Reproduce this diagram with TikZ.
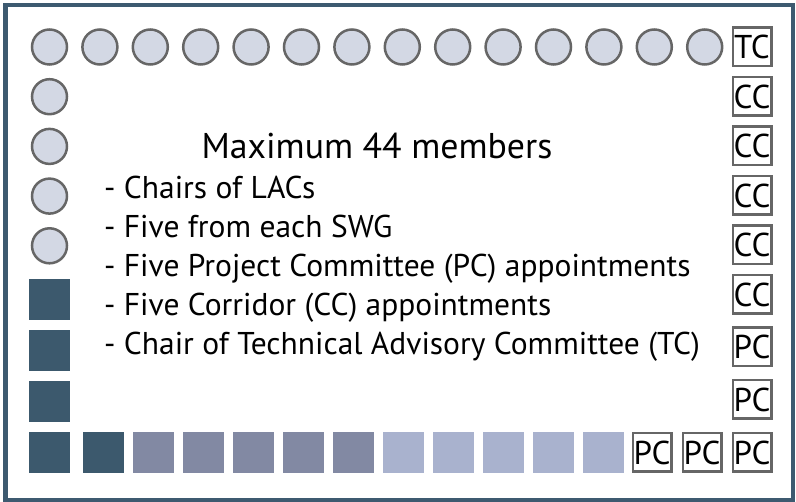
\documentclass[tikz,border=0pt]{standalone}
\usepackage{fontspec}
\setmainfont{PT Sans}
\usepackage{tikz}
\usetikzlibrary{ positioning, % For easy node-relative placements
               }
\definecolor{framecol}{HTML}{3D5A70}
\definecolor{lacfill}{HTML}{D3D8E4}
\definecolor{seatdark}{HTML}{3C596D}
\definecolor{seatmid}{HTML}{8289A3}
\definecolor{seatlight}{HTML}{A9B2CE}
\tikzstyle{frame} = [rectangle, draw=framecol, line width=4.5pt]
\tikzstyle{lac} = [circle, minimum width=35pt, inner sep=0pt, draw=black!60, line width=2.5pt, fill=lacfill]
\tikzstyle{seat} = [rectangle, minimum width=41pt, minimum height=41pt, inner sep=0pt]
\tikzstyle{appt} = [rectangle, minimum width=38.5pt, minimum height=38.5pt, inner sep=0pt, draw=black!60, line width=2.5pt, fill=white, font=\fontsize{33}{33}\selectfont]
\tikzstyle{item} = [anchor=base west, inner sep=0pt, font=\fontsize{31.5}{31.5}\selectfont]

\begin{document}
\begin{tikzpicture}[x=1pt, y=-1pt]
  \useasboundingbox (0, 0) rectangle (796, 502);
  \draw [frame] (5.5, 5) rectangle (793, 500);

  % top row of LAC chairs
  \node (t1) [lac] at (49.5, 47) {};
  \node (t2) [lac] at (99.9, 47) {};
  \node (t3) [lac] at (150.3, 47) {};
  \node (t4) [lac] at (200.7, 47) {};
  \node (t5) [lac] at (251.1, 47) {};
  \node (t6) [lac] at (301.5, 47) {};
  \node (t7) [lac] at (351.9, 47) {};
  \node (t8) [lac] at (402.3, 47) {};
  \node (t9) [lac] at (452.7, 47) {};
  \node (t10) [lac] at (503.1, 47) {};
  \node (t11) [lac] at (553.5, 47) {};
  \node (t12) [lac] at (603.9, 47) {};
  \node (t13) [lac] at (654.3, 47) {};
  \node (t14) [lac] at (704.7, 47) {};

  % left column
  \node (l1) [lac] at (49.5, 96.7) {};
  \node (l2) [lac] at (49.5, 146.4) {};
  \node (l3) [lac] at (49.5, 196.1) {};
  \node (l4) [lac] at (49.5, 245.8) {};
  \node (s1) [seat, fill=seatdark] at (49.5, 300) {};
  \node (s2) [seat, fill=seatdark] at (49.5, 351) {};
  \node (s3) [seat, fill=seatdark] at (49.5, 402) {};
  \node (s4) [seat, fill=seatdark] at (49.5, 453) {};

  % bottom row
  \node (b1) [seat, fill=seatdark] at (103.5, 453) {};
  \node (b2) [seat, fill=seatmid] at (153.5, 453) {};
  \node (b3) [seat, fill=seatmid] at (203.5, 453) {};
  \node (b4) [seat, fill=seatmid] at (253.5, 453) {};
  \node (b5) [seat, fill=seatmid] at (303.5, 453) {};
  \node (b6) [seat, fill=seatmid] at (353.5, 453) {};
  \node (b7) [seat, fill=seatlight] at (403.5, 453) {};
  \node (b8) [seat, fill=seatlight] at (453.5, 453) {};
  \node (b9) [seat, fill=seatlight] at (503.5, 453) {};
  \node (b10) [seat, fill=seatlight] at (553.5, 453) {};
  \node (b11) [seat, fill=seatlight] at (603.5, 453) {};
  \node (p1) [appt] at (652, 452.5) {PC};
  \node (p2) [appt] at (702, 452.5) {PC};

  % right column of appointments
  \node (tc) [appt] at (752, 47) {TC};
  \node (c1) [appt] at (752, 96.5) {CC};
  \node (c2) [appt] at (752, 146) {CC};
  \node (c3) [appt] at (752, 195.5) {CC};
  \node (c4) [appt] at (752, 245) {CC};
  \node (c5) [appt] at (752, 294.5) {CC};
  \node (p3) [appt] at (752, 347) {PC};
  \node (p4) [appt] at (752, 399.5) {PC};
  \node (p5) [appt] at (752, 452.5) {PC};

  % membership text
  \node (title) [anchor=base, inner sep=0pt, font=\fontsize{35.8}{35.8}\selectfont] at (377, 159) {Maximum 44 members};
  \node (i1) [item] at (104, 199) {- Chairs of LACs};
  \node (i2) [item] at (104, 238) {- Five from each SWG};
  \node (i3) [item] at (104, 277) {- Five Project Committee (PC) appointments};
  \node (i4) [item] at (104, 316) {- Five Corridor (CC) appointments};
  \node (i5) [item] at (104, 355) {- Chair of Technical Advisory Committee (TC)};
\end{tikzpicture}
\end{document}
